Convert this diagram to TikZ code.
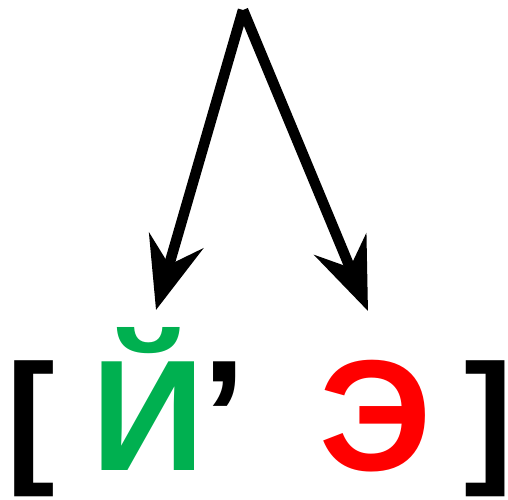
\documentclass[tikz,border=0pt]{standalone}
\usepackage{fontspec}
\setmainfont{Liberation Sans}
\usetikzlibrary{arrows.meta}
\definecolor{yotgreen}{HTML}{00B050}
\definecolor{ered}{HTML}{FF0000}

\begin{document}
\begin{tikzpicture}[x=1pt, y=-1pt,
    pointer/.style={line width=10.5pt, -{Stealth[length=72pt, width=56pt, inset=25pt]}},
    glyph/.style={anchor=base, inner sep=0pt, font=\fontsize{158}{160}\selectfont\bfseries},
    brack/.style={glyph, inner xsep=-9pt, font=\fontsize{146}{150}\selectfont\bfseries}]
                \useasboundingbox (0,0) rectangle (508,499);
                \coordinate (T) at (243,10);
                \coordinate (L) at (156,310);
                \coordinate (R) at (368,311);
                \draw[pointer] (T) -- (L);
                \draw[pointer] (T) -- (R);
                \node[brack] (lbr) at (31,466) {[};
                \node[glyph, text=yotgreen] (yot) at (148,470) {Й};
                \node[glyph] (apo) at (224,470) {’};
                \node[glyph, text=ered] (e) at (376,470) {Э};
                \node[brack] (rbr) at (489,466) {]};
            \end{tikzpicture}
\end{document}
